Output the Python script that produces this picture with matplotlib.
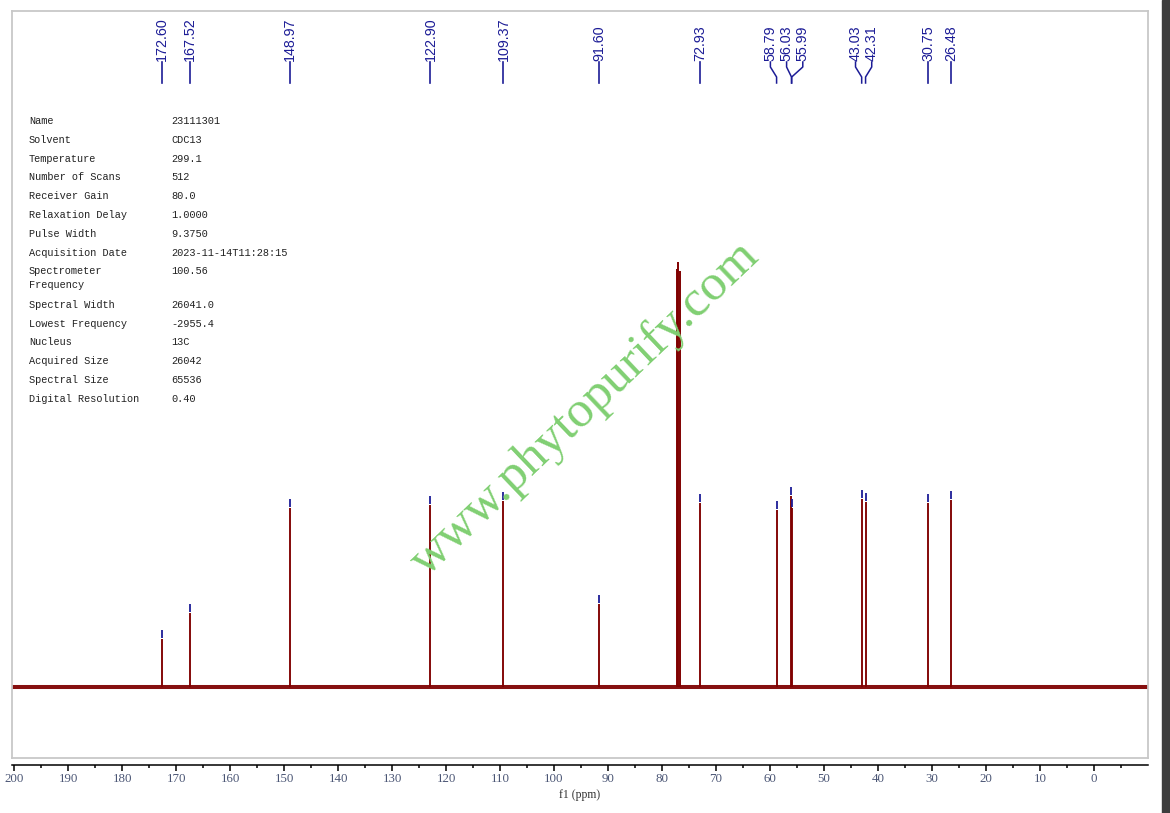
import numpy as np
import matplotlib.pyplot as plt
from matplotlib.patches import Rectangle
from matplotlib.transforms import blended_transform_factory

# picked peaks (ppm) and their heights above the baseline (arbitrary units)
peak_ppm = [172.60, 167.52, 148.97, 122.90, 109.37, 91.60, 72.93,
            58.79, 56.03, 55.99, 43.03, 42.31, 30.75, 26.48]
peak_height = [48, 74, 179, 182, 186, 83, 184,
               177, 191, 179, 188, 185, 184, 187]

# CDCl3 solvent triplet (not labelled)
solvent_ppm = [77.32, 77.00, 76.68]
solvent_height = [418, 425, 416]

# acquisition parameters
param_names = ['Name', 'Solvent', 'Temperature', 'Number of Scans', 'Receiver Gain',
               'Relaxation Delay', 'Pulse Width', 'Acquisition Date',
               'Spectrometer\nFrequency', 'Spectral Width', 'Lowest Frequency',
               'Nucleus', 'Acquired Size', 'Spectral Size', 'Digital Resolution']
param_values = ['23111301', 'CDC13', '299.1', '512', '80.0', '1.0000', '9.3750',
                '2023-11-14T11:28:15', '100.56', '26041.0', '-2955.4', '13C',
                '26042', '65536', '0.40']

major_ticks = list(range(200, -1, -10))
minor_ticks = list(range(195, -6, -10))

W, H = 1170, 813
RED = '#800000'
BLUE = '#1c1c96'

plt.rcParams['font.family'] = ['Liberation Serif', 'DejaVu Serif']


def fx(px):
    return px / W


def fy(py):
    return 1 - py / H


def spread_labels(xs, min_gap):
    # put close peaks in groups, then space each group evenly round its mean
    groups = [[xs[0]]]
    for x in xs[1:]:
        if groups[-1][-1] - x < min_gap:
            groups[-1].append(x)
        else:
            groups.append([x])
    out = []
    for g in groups:
        c = np.mean(g)
        n = len(g)
        out += [c + min_gap * ((n - 1) / 2 - i) for i in range(n)]
    return out


fig = plt.figure(figsize=(W / 100, H / 100), dpi=100)
ax = fig.add_axes([fx(12), fy(758), fx(1148) - fx(12), fy(11) - fy(758)])
ax.set_xlim(200.4, -10)
ax.set_ylim(-71, 676)
ax.set_xticks([])
ax.set_yticks([])
for s in ax.spines.values():
    s.set_color('#c8c8c8')
    s.set_linewidth(1.3)

# spectrum: baseline band plus peak lines
ax.axhline(0, color='#861010', lw=2.9, zorder=2)
ax.vlines(solvent_ppm, 0, solvent_height, color=RED, lw=1.4, zorder=3)
ax.vlines(peak_ppm, 0, peak_height, color=RED, lw=1.35, zorder=3)

# peak-pick marks just above each peak
tops = np.array(peak_height)
ax.vlines(peak_ppm, tops + 1, tops + 9, color=BLUE, lw=1.3, zorder=4)

# peak labels along the top
trans = blended_transform_factory(ax.transData, ax.transAxes)


def ay(py):
    return (758 - py) / (758 - 11)


label_x = spread_labels(peak_ppm, 3.0)
for p, lx in zip(peak_ppm, label_x):
    ax.text(lx, ay(61), f'{p:.2f}', rotation=90, ha='center', va='bottom',
            transform=trans, family='Liberation Sans', fontsize=10.3, color=BLUE)
    if abs(lx - p) < 1e-6:
        ax.plot([p, p], [ay(62), ay(83)], transform=trans, color=BLUE, lw=1.2,
                clip_on=False)
    else:
        ax.plot([lx, lx, p, p], [ay(62), ay(67), ay(77), ay(83)], transform=trans,
                color=BLUE, lw=1.1, clip_on=False)

# bottom ppm scale
sec = ax.secondary_xaxis(-7 / 747)
sec.set_xticks(major_ticks)
sec.set_xticks(minor_ticks, minor=True)
sec.tick_params(which='major', length=4, width=1.1, labelsize=9.3,
                labelcolor='#4b5675', pad=1.5)
sec.tick_params(which='minor', length=2.5, width=1.1)
sec.spines['bottom'].set_linewidth(1.1)
sec.set_xlabel('f1 (ppm)', fontsize=8.5, color='#333333', labelpad=3)

# parameter table
row_y = 122
for name, val in zip(param_names, param_values):
    fig.text(fx(29), fy(row_y - 6), name, va='top', ha='left',
             family='Liberation Mono', fontsize=7.4, color='#222222', linespacing=1.45)
    fig.text(fx(171), fy(row_y - 6), val, va='top', ha='left',
             family='Liberation Mono', fontsize=7.4, color='#222222')
    row_y += 18.8 + (14.5 if '\n' in name else 0)

# watermark
fig.text(fx(585), fy(409), 'www.phytopurify.com', rotation=43.6, ha='center',
         va='center', rotation_mode='anchor', family='Liberation Serif',
         fontsize=37, color='#80cf72', zorder=10)

# dark edge on the right of the screenshot
fig.add_artist(Rectangle((fx(1162), 0), fx(1170) - fx(1162), 1,
                         transform=fig.transFigure, color='#3d3d3d'))

fig.savefig('out.png', dpi=100)
